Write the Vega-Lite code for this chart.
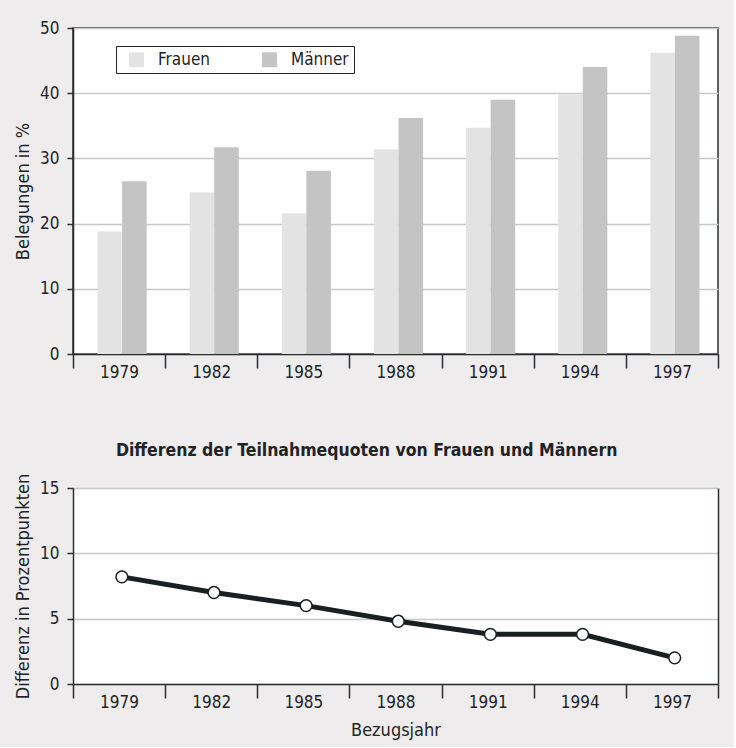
{
  "$schema": "https://vega.github.io/schema/vega-lite/v6.json",
  "background": "#eeeced",
  "padding": {"left": 13, "top": 18, "right": 14, "bottom": 7},
  "datasets": {
    "bars": [
      {"year": "1979", "sex": "Frauen", "value": 18.8},
      {"year": "1979", "sex": "Männer", "value": 26.5},
      {"year": "1982", "sex": "Frauen", "value": 24.8},
      {"year": "1982", "sex": "Männer", "value": 31.7},
      {"year": "1985", "sex": "Frauen", "value": 21.6},
      {"year": "1985", "sex": "Männer", "value": 28.1},
      {"year": "1988", "sex": "Frauen", "value": 31.4},
      {"year": "1988", "sex": "Männer", "value": 36.2},
      {"year": "1991", "sex": "Frauen", "value": 34.7},
      {"year": "1991", "sex": "Männer", "value": 39.0},
      {"year": "1994", "sex": "Frauen", "value": 39.8},
      {"year": "1994", "sex": "Männer", "value": 44.0},
      {"year": "1997", "sex": "Frauen", "value": 46.2},
      {"year": "1997", "sex": "Männer", "value": 48.8}
    ],
    "diff": [
      {"year": "1979", "diff": 8.2},
      {"year": "1982", "diff": 7.0},
      {"year": "1985", "diff": 6.0},
      {"year": "1988", "diff": 4.8},
      {"year": "1991", "diff": 3.8},
      {"year": "1994", "diff": 3.8},
      {"year": "1997", "diff": 2.0}
    ]
  },
  "spacing": 59,
  "vconcat": [
    {
      "width": 645,
      "height": 326,
      "view": {"fill": "white", "stroke": "#2a2e31", "strokeWidth": 1.5},
      "data": {"name": "bars"},
      "mark": {"type": "bar"},
      "encoding": {
        "x": {
          "field": "year", "type": "ordinal",
          "scale": {"paddingInner": 0, "paddingOuter": 0},
          "axis": {"title": null, "labelAngle": 0, "tickBand": "extent", "tickSize": 14, "labelPadding": -3.5, "grid": false}
        },
        "xOffset": {
          "field": "sex", "type": "nominal", "sort": ["Frauen", "Männer"],
          "scale": {"paddingInner": 0, "paddingOuter": 0.878, "align": 0.57}
        },
        "y": {
          "field": "value", "type": "quantitative",
          "scale": {"domain": [0, 50], "nice": false},
          "axis": {"title": "Belegungen in %", "values": [0, 10, 20, 30, 40, 50], "tickSize": 6, "labelPadding": 8, "titlePadding": 7, "grid": true}
        },
        "color": {
          "field": "sex", "type": "nominal",
          "scale": {"domain": ["Frauen", "Männer"], "range": ["#e3e3e3", "#c4c4c4"]},
          "legend": {
            "title": null,
            "orient": "none",
            "legendX": 43,
            "legendY": 18,
            "direction": "horizontal",
            "symbolType": "square",
            "symbolSize": 225,
            "symbolStrokeWidth": 0,
            "symbolOpacity": 1,
            "symbolOffset": 7,
            "labelOffset": 13,
            "labelFontSize": 17,
            "labelColor": "#1f2326",
            "columnPadding": 43,
            "padding": 5,
            "fillColor": "white",
            "strokeColor": "#1f2326"
          }
        }
      }
    },
    {
      "width": 645,
      "height": 196,
      "view": {"fill": "white", "stroke": null},
      "title": {
        "text": "Differenz der Teilnahmequoten von Frauen und Männern",
        "fontSize": 17.5,
        "fontWeight": "bold",
        "color": "#1f2326",
        "anchor": "middle",
        "frame": "bounds",
        "offset": 14
      },
      "data": {"name": "diff"},
      "encoding": {
        "x": {
          "field": "year", "type": "ordinal", "bandPosition": 0.53,
          "scale": {"paddingInner": 0, "paddingOuter": 0},
          "axis": {"title": "Bezugsjahr", "labelAngle": 0, "tickBand": "extent", "tickSize": 14, "labelPadding": -3.5, "titlePadding": 11, "grid": false}
        },
        "y": {
          "field": "diff", "type": "quantitative",
          "scale": {"domain": [0, 15], "nice": false}
        }
      },
      "layer": [
        {
          "mark": {"type": "line", "color": "#1a1f22", "strokeWidth": 5},
          "encoding": {
            "y": {
              "field": "diff", "type": "quantitative",
              "axis": {"title": "Differenz in Prozentpunkten", "values": [0, 5, 10, 15], "tickSize": 6, "labelPadding": 8, "titlePadding": 7, "grid": true}
            }
          }
        },
        {
          "mark": {"type": "point", "filled": true, "fill": "white", "stroke": "#1a1f22", "strokeWidth": 1.5, "size": 140, "opacity": 1},
          "encoding": {
            "y": {
              "field": "diff", "type": "quantitative",
              "axis": {"orient": "right", "title": null, "labels": false, "ticks": false, "grid": false, "domain": true}
            }
          }
        }
      ],
      "resolve": {"axis": {"y": "independent"}}
    }
  ],
  "config": {
    "font": "DejaVu Sans Condensed",
    "axis": {
      "labelFontSize": 17,
      "titleFontSize": 18,
      "titleFontWeight": "normal",
      "labelColor": "#1f2326",
      "titleColor": "#1f2326",
      "domainColor": "#2a2e31",
      "tickColor": "#2a2e31",
      "domainWidth": 1.5,
      "tickWidth": 1.5,
      "gridColor": "#c8c8c8",
      "gridWidth": 1.5
    }
  }
}
